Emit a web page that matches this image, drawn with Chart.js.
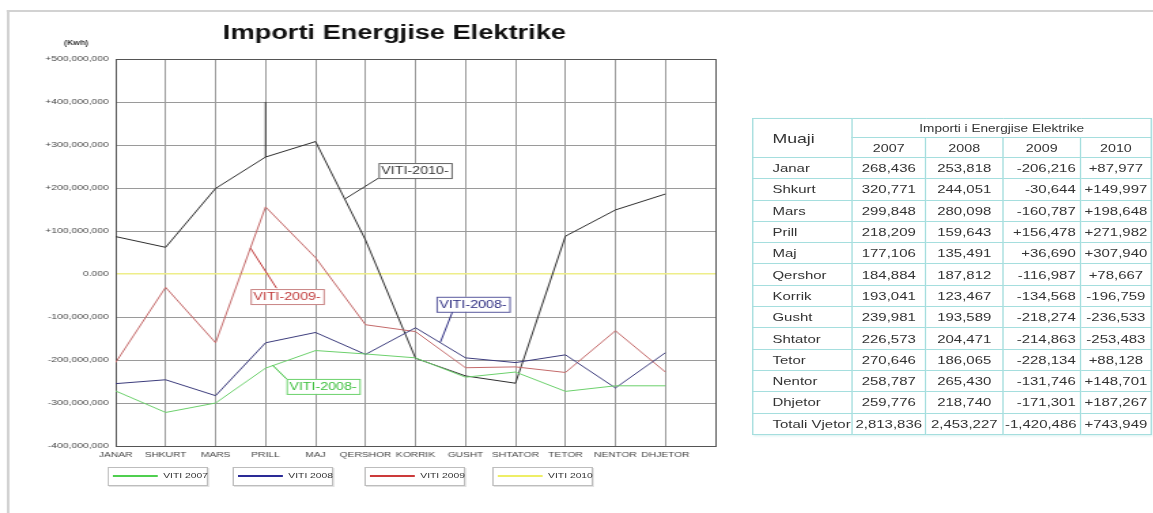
<!DOCTYPE html>
<html>
<head>
<meta charset="utf-8">
<script src="https://cdn.jsdelivr.net/npm/chart.js@4"></script>
<style>
  html, body { margin: 0; padding: 0; background: #fff; overflow: hidden; }
  body { width: 1153px; height: 513px; position: relative; font-family: Arial, "Liberation Sans", sans-serif; }
  /* the source picture is stretched sideways, so everything is laid out narrow and widened */
  #wrap { position: absolute; left: 0; top: 0; width: 848px; height: 513px; transform: scaleX(1.36); transform-origin: 0 0; }
  #frame { position: absolute; left: 5px; top: 10px; width: 900px; height: 520px; border-top: 2px solid #d2d2d2; border-left: 2px solid #d2d2d2; }
  #chart { position: absolute; left: 0; top: 0; }
  .lg { position: absolute; top: 467px; height: 17px; width: 72px; border: 1px solid #bdbdbd; box-shadow: 1px 1px 0 #e2e2e2; background: #fff; }
  .lg i { position: absolute; left: 3px; top: 7px; width: 33px; height: 2px; }
  .lg span { position: absolute; left: 40px; top: 3px; font-size: 7.6px; color: #333; white-space: nowrap; }
  #tbl { position: absolute; left: 553px; top: 118px; width: 293px; table-layout: fixed; border-collapse: collapse; color: #333; font-size: 11px; box-shadow: 1px 1px 2px #d8f0f0; }
  #tbl td { border: 1px solid #a5dede; padding: 0 1px; white-space: nowrap; overflow: hidden; height: 20.3px; }
  #tbl td.m { padding-left: 14px; text-align: left; }
  #tbl td.c { text-align: center; }
  #tbl td.r { text-align: right; padding-right: 3px; }
</style>
</head>
<body>
<div id="wrap">
  <div id="frame"></div>
  <canvas id="chart" width="540" height="513"></canvas>
  <div id="legend"></div>
  <table id="tbl"></table>
</div>
<script>
const months = ['JANAR', 'SHKURT', 'MARS', 'PRILL', 'MAJ', 'QERSHOR', 'KORRIK', 'GUSHT', 'SHTATOR', 'TETOR', 'NENTOR', 'DHJETOR'];

// kWh
const viti2007 = [-272000000, -322000000, -300000000, -219000000, -178000000, -186000000, -195000000, -240000000, -228000000, -273000000, -260000000, -260000000];
const viti2008 = [-255000000, -246000000, -283000000, -160000000, -136000000, -187000000, -125000000, -195000000, -206000000, -188000000, -265000000, -183000000];
const viti2009 = [-206000000, -31000000, -160000000, 156000000, 38000000, -118000000, -134000000, -218000000, -216000000, -229000000, -132000000, -228000000];
const viti2010 = [87000000, 62000000, 199000000, 272000000, 308000000, 79000000, -196000000, -237000000, -254000000, 88000000, 149000000, 186000000];

const yTicks = [-400000000, -300000000, -200000000, -100000000, 0, 100000000, 200000000, 300000000, 400000000, 500000000];

const legendLabels = ['VITI 2007', 'VITI 2008', 'VITI 2009', 'VITI 2010'];
const legendColors = ['#4fcf4f', '#2a2a96', '#cc3a3a', '#eeee66'];

// table on the right
const tableTitle = 'Importi i Energjise Elektrike';
const tableYears = ['2007', '2008', '2009', '2010'];
const tableMonths = ['Janar', 'Shkurt', 'Mars', 'Prill', 'Maj', 'Qershor', 'Korrik', 'Gusht', 'Shtator', 'Tetor', 'Nentor', 'Dhjetor', 'Totali Vjetor'];
const tab2007 = ['268,436', '320,771', '299,848', '218,209', '177,106', '184,884', '193,041', '239,981', '226,573', '270,646', '258,787', '259,776', '2,813,836'];
const tab2008 = ['253,818', '244,051', '280,098', '159,643', '135,491', '187,812', '123,467', '193,589', '204,471', '186,065', '265,430', '218,740', '2,453,227'];
const tab2009 = ['-206,216', '-30,644', '-160,787', '+156,478', '+36,690', '-116,987', '-134,568', '-218,274', '-214,863', '-228,134', '-131,746', '-171,301', '-1,420,486'];
const tab2010 = ['+87,977', '+149,997', '+198,648', '+271,982', '+307,940', '+78,667', '-196,759', '-236,533', '-253,483', '+88,128', '+148,701', '+187,267', '+743,949'];

// callout labels, anchored in data space
const callouts = [
  { text: '', color: '#333', line: [[3, 400000000], [3, 272000000]] },
  { text: 'VITI-2010-', color: '#333', border: '#666', at: [5.26, 258000000], line: [[4.58, 174000000], [5.26, 223000000]] },
  { text: 'VITI-2009-', color: '#c03a3a', border: '#c98585', at: [2.70, -35000000], line: [[2.70, 60000000], [3.22, -33000000]] },
  { text: 'VITI-2008-', color: '#2c2c80', border: '#5a5a9e', at: [6.42, -53000000], line: [[6.50, -158000000], [6.74, -88000000]] },
  { text: 'VITI-2008-', color: '#3cbf3c', border: '#6cd26c', at: [3.42, -244000000], line: [[3.14, -212000000], [3.42, -244000000]] }
];

function series(vals) {
  return vals.map((v, i) => ({ x: i, y: v }));
}

function fmtY(v) {
  if (v === 0) return '0.000';
  const s = Math.abs(v).toLocaleString('en-US');
  return (v > 0 ? '+' : '-') + s;
}

const extras = {
  id: 'extras',
  afterDraw(chart) {
    const c = chart.ctx;
    const xs = chart.scales.x, ys = chart.scales.y;
    c.save();
    // title
    c.fillStyle = '#111';
    c.font = 'bold 20px Arial';
    c.textAlign = 'center';
    c.textBaseline = 'middle';
    c.fillText('Importi Energjise Elektrike', 290, 33);
    c.font = 'bold 6.5px Arial';
    c.fillStyle = '#333';
    c.fillText('(Kwh)', 56, 43);
    // callouts
    callouts.forEach(n => {
      c.strokeStyle = n.color;
      c.lineWidth = 1;
      c.beginPath();
      n.line.forEach((p, k) => {
        const px = xs.getPixelForValue(p[0]), py = ys.getPixelForValue(p[1]);
        if (k === 0) c.moveTo(px, py); else c.lineTo(px, py);
      });
      c.stroke();
      if (!n.text) return;
      const bx = xs.getPixelForValue(n.at[0]), by = ys.getPixelForValue(n.at[1]);
      c.font = '10.5px Arial';
      const w = c.measureText(n.text).width + 4;
      c.fillStyle = '#fff';
      c.fillRect(bx, by, w, 15);
      c.strokeStyle = n.border;
      c.strokeRect(bx + 0.5, by + 0.5, w, 15);
      c.fillStyle = n.color;
      c.textAlign = 'left';
      c.fillText(n.text, bx + 2, by + 8.5);
    });
    c.restore();
  }
};

new Chart(document.getElementById('chart'), {
  type: 'line',
  data: {
    datasets: [
      { label: 'VITI 2007', data: series(viti2007), borderColor: '#6cd06c' },
      { label: 'VITI 2008', data: series(viti2008), borderColor: '#3c3c7c' },
      { label: 'VITI 2009', data: series(viti2009), borderColor: '#c46a6a' },
      { label: 'VITI 2010', data: series(viti2010), borderColor: '#2e2e2e' }
    ]
  },
  options: {
    responsive: false,
    animation: false,
    elements: { line: { borderWidth: 1, tension: 0 }, point: { radius: 0 } },
    layout: { padding: { left: 6, right: 14, top: 59, bottom: 47 } },
    plugins: { legend: { display: false }, tooltip: { enabled: false } },
    scales: {
      x: {
        type: 'linear', min: 0, max: 12,
        afterFit: s => { s.height = 20; },
        ticks: {
          stepSize: 1, autoSkip: false, maxRotation: 0, padding: 4,
          color: '#444', font: { family: 'Arial', size: 7.5 },
          callback: v => months[v] || ''
        },
        grid: {
          drawTicks: false,
          color: ctx => (ctx.tick && (ctx.tick.value === 0 || ctx.tick.value === 12)) ? '#555' : '#9a9a9a'
        },
        border: { color: '#555' }
      },
      y: {
        min: yTicks[0], max: yTicks[yTicks.length - 1],
        afterFit: s => { s.width = 79; },
        afterBuildTicks: s => { s.ticks = yTicks.map(v => ({ value: v })); },
        ticks: {
          padding: 5, color: '#444', font: { family: 'Arial', size: 7.6 },
          callback: v => fmtY(v)
        },
        grid: {
          drawTicks: false,
          lineWidth: ctx => (ctx.tick && ctx.tick.value === 0) ? 1.6 : 1,
          color: ctx => {
            const v = ctx.tick && ctx.tick.value;
            if (v === 0) return '#eeee8a';
            if (v === yTicks[0] || v === yTicks[yTicks.length - 1]) return '#555';
            return '#9a9a9a';
          }
        },
        border: { color: '#555' }
      }
    }
  },
  plugins: [extras]
});

// legend boxes
const legendLeft = [79, 171, 268, 362];
document.getElementById('legend').innerHTML = legendLabels.map((t, i) =>
  `<div class="lg" style="left:${legendLeft[i]}px"><i style="background:${legendColors[i]}"></i><span>${t}</span></div>`
).join('');

// table
const colW = [73, 54, 57, 57, 52];
let html = '<colgroup>' + colW.map(w => `<col style="width:${w}px">`).join('') + '</colgroup>' +
  `<tr><td class="m" rowspan="2" style="font-size:13px">Muaji</td>` +
  `<td class="c" colspan="4" style="height:18px;font-size:10px">${tableTitle}</td></tr><tr>` +
  tableYears.map(y => `<td class="c" style="font-size:10.5px;height:19px">${y}</td>`).join('') + '</tr>';
tableMonths.forEach((m, i) => {
  html += `<tr><td class="m">${m}</td><td class="c">${tab2007[i]}</td><td class="c">${tab2008[i]}</td>` +
    `<td class="r">${tab2009[i]}</td><td class="c">${tab2010[i]}</td></tr>`;
});
document.getElementById('tbl').innerHTML = html;
</script>
</body>
</html>
